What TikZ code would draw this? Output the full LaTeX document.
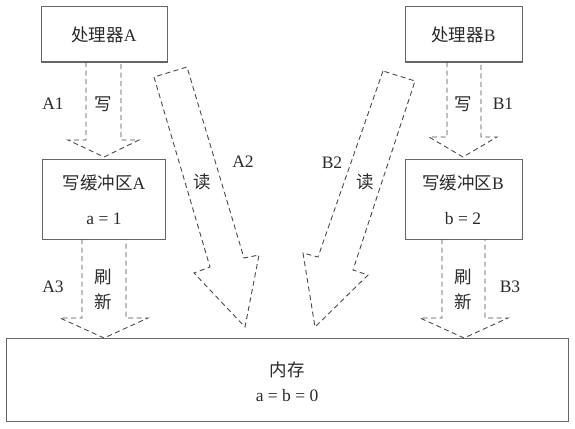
\documentclass[tikz,border=0pt]{standalone}
\usepackage{fontspec}
\setmainfont{Liberation Serif}
\newfontfamily\cjk{Noto Sans CJK SC}
\definecolor{boxgray}{HTML}{666666}
\definecolor{arrowgray}{HTML}{4A4A4A}
\definecolor{txtgray}{HTML}{2A2A2A}
\begin{document}
\begin{tikzpicture}[x=1pt,y=-1pt,
  box/.style={draw=boxgray, line width=1pt, inner sep=0pt, text=txtgray,
    font=\fontsize{17.5}{21}\selectfont},
  fat/.style={draw=arrowgray, dash pattern=on 5pt off 3.5pt, line width=0.9pt, line join=miter},
  lbl/.style={text=txtgray, inner sep=0pt, font=\fontsize{17.5}{21}\selectfont}]
\useasboundingbox (0,0) rectangle (575,428);
% boxes
\node[box, minimum width=126pt, minimum height=55pt] (pa) at (104,34.5) {{\cjk 处理器}A};
\node[box, minimum width=117pt, minimum height=55pt] (pb) at (463.5,34.5) {{\cjk 处理器}B};
\node[box, minimum width=123pt, minimum height=80pt] (wa) at (103.5,199) {};
\node[box, minimum width=117pt, minimum height=80pt] (wb) at (463.5,199) {};
\node[box, minimum width=562pt, minimum height=83pt] (mem) at (287,379.5) {};
% box texts
\node[lbl] (wat) at (104,183) {{\cjk 写缓冲区}A};
\node[lbl] (wav) at (104,219) {a = 1};
\node[lbl] (wbt) at (463,183) {{\cjk 写缓冲区}B};
\node[lbl] (wbv) at (463,219) {b = 2};
\node[lbl] (memt) at (287,370) {\cjk 内存};
\node[lbl] (memv) at (287,396) {a = b = 0};
% write arrows
\draw[fat] (86,62) -- (86,140) -- (68,140) -- (104,157) -- (139,140) -- (121,140) -- (121,62);
\draw[fat] (447,62) -- (447,137) -- (429,137) -- (463,157) -- (497,137) -- (481,137) -- (481,62);
% flush arrows
\draw[fat] (82,239) -- (82,318) -- (60,318) -- (104,338) -- (148,318) -- (126,318) -- (126,239);
\draw[fat] (442,239) -- (442,318) -- (420,318) -- (464,338) -- (508,318) -- (485,318) -- (485,239);
% read arrows
\draw[fat] (154,77) -- (210,267) -- (194,273) -- (245,327) -- (259,255) -- (244,258) -- (187,67) -- cycle;
\draw[fat] (383,71) -- (318,257) -- (303,253) -- (315,327) -- (368,275) -- (353,270) -- (415,81) -- cycle;
% labels
\node[lbl] (a1) at (53,104) {A1};
\node[lbl] (xa) at (103,104) {\cjk 写};
\node[lbl] (a2) at (243,162) {A2};
\node[lbl] (ra) at (202,182) {\cjk 读};
\node[lbl] (a3) at (53,287) {A3};
\node[lbl] (sa1) at (103,277) {\cjk 刷};
\node[lbl] (sa2) at (103,302) {\cjk 新};
\node[lbl] (xb) at (463,104) {\cjk 写};
\node[lbl] (b1) at (503,104) {B1};
\node[lbl] (b2) at (332,163) {B2};
\node[lbl] (rb) at (365,182) {\cjk 读};
\node[lbl] (b3) at (510,287) {B3};
\node[lbl] (sb1) at (463,277) {\cjk 刷};
\node[lbl] (sb2) at (463,302) {\cjk 新};
\end{tikzpicture}
\end{document}
